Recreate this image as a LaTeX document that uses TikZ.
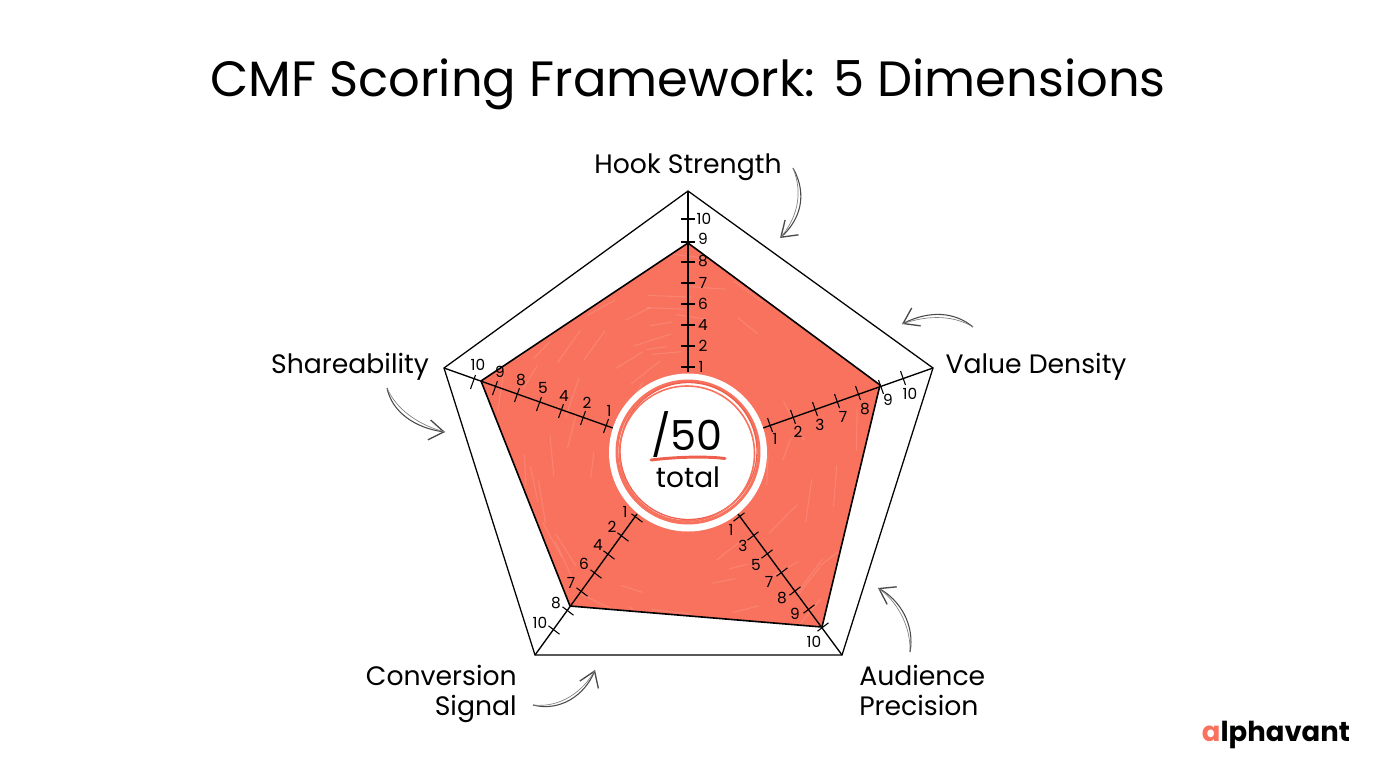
\documentclass[tikz,border=0pt]{standalone}
\usepackage{fontspec}
\setmainfont{Poppins}
\usetikzlibrary{arrows.meta}
\definecolor{coral}{HTML}{F9725E}
\definecolor{coraldark}{HTML}{EE604D}
\definecolor{arrowgrey}{HTML}{4A4A4A}
\tikzset{
	outline/.style={line width=0.95pt,black},
	tickline/.style={line width=0.8pt,black},
	ticklabel/.style={font=\fontsize{11.5}{12}\selectfont,inner sep=0pt},
	dimlabel/.style={font=\fontsize{20}{22.5}\selectfont,inner sep=0pt},
	sketcharrow/.style={line width=0.8pt,arrowgrey,-{Straight Barb[length=11pt,width=15pt,line width=1pt]}},
	sketchline/.style={line width=0.5pt,arrowgrey!70}
}
\begin{document}
\begin{tikzpicture}[x=0.75pt,y=-0.75pt]
	\useasboundingbox (0,0) rectangle (1376,768);
	\fill[white] (0,0) rectangle (1376,768);

	% outer pentagon
	\coordinate (outerA) at (688,191);
	\coordinate (outerB) at (933,368);
	\coordinate (outerC) at (842,655);
	\coordinate (outerD) at (535,655);
	\coordinate (outerE) at (444,368);
	\draw[outline,line join=miter] (outerA) -- (outerB) -- (outerC) -- (outerD) -- (outerE) -- cycle;

	% score polygon
	\coordinate (scoreA) at (688,243);
	\coordinate (scoreB) at (880,385);
	\coordinate (scoreC) at (822,627);
	\coordinate (scoreD) at (570,606);
	\coordinate (scoreE) at (481,381);
	\fill[coral] (scoreA) -- (scoreB) -- (scoreC) -- (scoreD) -- (scoreE) -- cycle;
	% chalky strokes
	\begin{scope}
		\clip (scoreA) -- (scoreB) -- (scoreC) -- (scoreD) -- (scoreE) -- cycle;
		\pgfmathsetseed{7}
		\foreach \i in {1,...,90}
		{
			\pgfmathsetmacro{\sx}{470+rnd*420}
			\pgfmathsetmacro{\sy}{240+rnd*390}
			\pgfmathsetmacro{\sa}{atan2(\sy-452,\sx-688)+90+rnd*20}
			\draw[white,opacity=0.13,line width=0.8pt,line cap=round] (\sx,\sy) -- ++(\sa:18+rnd*30);
		}
	\end{scope}
	\draw[line width=1.2pt,black,line join=round] (scoreA) -- (scoreB) -- (scoreC) -- (scoreD) -- (scoreE) -- cycle;

	% axes
	\coordinate (hubA) at (688,372);
	\coordinate (hubB) at (763,428);
	\coordinate (hubC) at (738,514);
	\coordinate (hubD) at (637,514);
	\coordinate (hubE) at (613,428);
	\foreach \n in {A,B,C,D,E}
	\draw[tickline,line width=1pt] (outer\n) -- (hub\n);

	% ticks, one list per axis
	\foreach \tx/\ty/\lx/\ly/\t in {688/219/704/219/10,688/242/703/239/9,688/262/703/261/8,688/283/703/283/7,688/304/703/304/6,688/325/703/325/4,688/346/703/346/2,688/367/701/367/1}
	{
		\draw[tickline] (\tx-7,\ty) -- (\tx+7,\ty);
		\node[ticklabel] (hook\t) at (\lx,\ly) {\t};
	}
	\foreach \tx/\ty/\lx/\ly/\t in {770/425/775/439/1,793/417/798/432/2,815/409/820/425/3,837/401/843/417/7,858/393/865/409/8,881/387/888/400/9,903/378/910/394/10}
	{
		\draw[tickline] (\tx+2.5,\ty+7) -- (\tx-2.5,\ty-7);
		\node[ticklabel] (value\t) at (\lx,\ly) {\t};
	}
	\foreach \tx/\ty/\lx/\ly/\t in {739/517/731/530/1,753/536/743/546/3,767/554/756/565/5,782/572/769/582/7,795/591/782/598/8,809/609/795/614/9,823/627/814/642/10}
	{
		\draw[tickline] (\tx-5.5,\ty+4.2) -- (\tx+5.5,\ty-4.2);
		\node[ticklabel] (audience\t) at (\lx,\ly) {\t};
	}
	\foreach \tx/\ty/\lx/\ly/\t in {637/518/625/512/1,623/537/612/527/2,609/555/598/545/4,596/574/584/564/6,582/592/571/583/7,568/611/556/603/8,554/630/540/623/10}
	{
		\draw[tickline] (\tx-5.5,\ty-4.2) -- (\tx+5.5,\ty+4.2);
		\node[ticklabel] (conversion\t) at (\lx,\ly) {\t};
	}
	\foreach \tx/\ty/\lx/\ly/\t in {473/382/478/365/10,495/388/500/372/9,517/395/521/380/8,539/404/543/388/5,561/411/564/396/4,583/418/587/403/2,606/426/609/411/1}
	{
		\draw[tickline] (\tx-2.5,\ty+7) -- (\tx+2.5,\ty-7);
		\node[ticklabel] (share\t) at (\lx,\ly) {\t};
	}

	% centre badge
	\fill[white] (688,452.5) circle (79);
	\draw[coral,line width=2.2pt] (688,452) circle (71);
	\draw[coraldark,line width=1pt] (688.5,451) circle (68.5);
	\draw[coral,line width=1.2pt] (687,453.5) circle (67.5);
	\node[font=\fontsize{31}{36}\selectfont,inner sep=0pt] (score) at (687,435) {/50};
	\draw[coraldark,line width=2.2pt,line cap=round] (651,460) .. controls (675,457) and (705,456) .. (725,458.5);
	\node[font=\fontsize{21}{24}\selectfont,inner sep=0pt] (total) at (688,477) {total};

	% title and dimension labels
	\node[font=\fontsize{37.2}{42}\selectfont,inner sep=0pt] (title) at (688,84) {CMF Scoring Framework: 5 Dimensions};
	\node[dimlabel] (hook) at (688,167) {Hook Strength};
	\node[dimlabel] (value) at (1036,367) {Value Density};
	\node[dimlabel] (share) at (350,367) {Shareability};
	\node[dimlabel,align=right,anchor=east] (conversion) at (517,694) {Conversion\\Signal};
	\node[dimlabel,align=left,anchor=west] (audience) at (859,690) {Audience\\Precision};

	% sketched arrows
	\coordinate (hookFrom) at (793,168);
	\coordinate (hookTo) at (780,238);
	\coordinate (valueFrom) at (973,327);
	\coordinate (valueTo) at (902,324);
	\coordinate (audienceFrom) at (910,652);
	\coordinate (audienceTo) at (878,588);
	\coordinate (conversionFrom) at (533,705);
	\coordinate (conversionTo) at (595,670);
	\coordinate (shareFrom) at (387,388);
	\coordinate (shareTo) at (445,432);
	\draw[sketcharrow] (hookFrom) .. controls (808,195) and (800,220) .. (hookTo);
	\draw[sketchline] (hookFrom) .. controls (804,195) and (796,220) .. (hookTo);
	\draw[sketcharrow] (valueFrom) .. controls (955,312) and (930,310) .. (valueTo);
	\draw[sketchline] (valueFrom) .. controls (955,316) and (930,314) .. (valueTo);
	\draw[sketcharrow] (audienceFrom) .. controls (915,625) and (900,600) .. (audienceTo);
	\draw[sketchline] (audienceFrom) .. controls (911,625) and (896,600) .. (audienceTo);
	\draw[sketcharrow] (conversionFrom) .. controls (560,712) and (585,695) .. (conversionTo);
	\draw[sketchline] (conversionFrom) .. controls (560,708) and (583,692) .. (conversionTo);
	\draw[sketcharrow] (shareFrom) .. controls (392,412) and (415,428) .. (shareTo);
	\draw[sketchline] (shareFrom) .. controls (396,409) and (418,425) .. (shareTo);

	% logo
	\node[font=\fontsize{20.6}{22}\bfseries\selectfont,inner sep=0pt] (logo) at (1276,735) {\textcolor{coral}{a}lphavant};
\end{tikzpicture}
\end{document}
